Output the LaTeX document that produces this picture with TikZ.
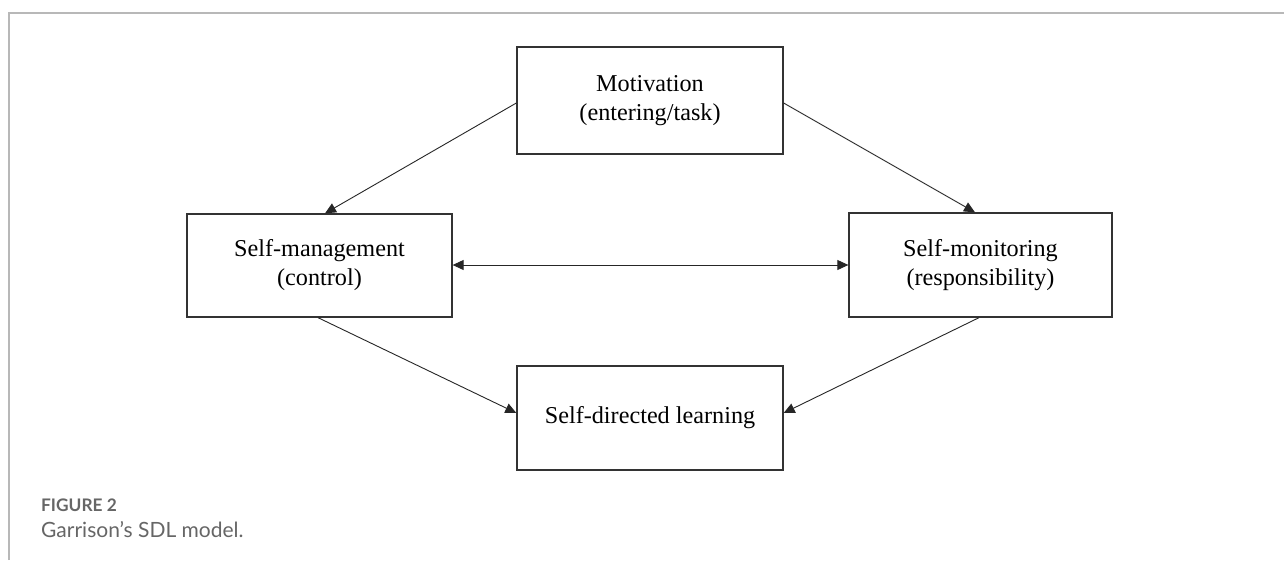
\documentclass[tikz,border=0pt]{standalone}
\usepackage{fontspec}
\setmainfont{Liberation Serif}
\newfontfamily\capfont{Lato}
\usetikzlibrary{arrows.meta}
\begin{document}
\begin{tikzpicture}[x=1pt,y=-1pt,
  box/.style={draw=black!80,line width=1.3pt,inner sep=0pt,align=center,font=\fontsize{24.2}{29}\selectfont},
  conn/.style={draw=black!85,line width=0.9pt,-{Triangle[length=11pt,width=10pt]}},
  dconn/.style={draw=black!85,line width=0.9pt,{Triangle[length=11pt,width=10pt]}-{Triangle[length=11pt,width=10pt]}}]
\useasboundingbox (0,0) rectangle (1284,560);
\fill[white] (0,0) rectangle (1284,560);
\draw[draw=black!28,line width=1.4pt] (9,560) -- (9,13) -- (1284,13);
\node[box,minimum width=266pt,minimum height=107pt] (mot) at (650,100.5) {Motivation\\(entering/task)};
\node[box,minimum width=265pt,minimum height=103pt] (sm) at (319.5,265.5) {Self-management\\(control)};
\node[box,minimum width=263pt,minimum height=104pt] (smo) at (980.5,265) {Self-monitoring\\(responsibility)};
\node[box,minimum width=266pt,minimum height=104pt] (sdl) at (650,418) {Self-directed learning};
\draw[conn] (mot.west |- 0,103) -- (sm.north -| 325,0);
\draw[conn] (mot.east |- 0,103) -- (smo.north -| 975,0);
\draw[dconn] (sm.east |- 0,265) -- (smo.west |- 0,265);
\draw[conn] (sm.south -| 318,0) -- (sdl.west |- 0,413);
\draw[conn] (smo.south -| 979,0) -- (sdl.east |- 0,413);
\node[anchor=base west,inner sep=0pt,text=black!60,font=\capfont\bfseries\fontsize{17.3}{20}\selectfont] (fig) at (41,511) {FIGURE 2};
\node[anchor=base west,inner sep=0pt,text=black!60,font=\capfont\fontsize{21}{24}\selectfont] (cap) at (41,537) {Garrison’s SDL model.};
\end{tikzpicture}
\end{document}
